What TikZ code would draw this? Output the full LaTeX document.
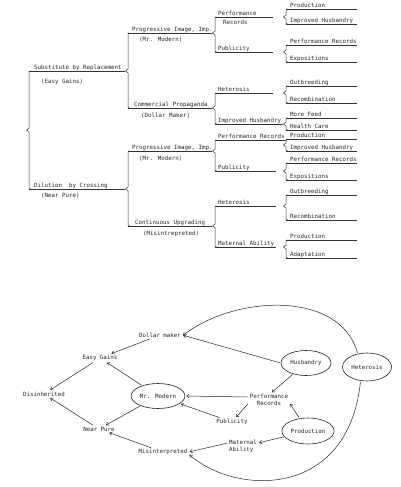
\documentclass[tikz,border=0pt]{standalone}
\usepackage{fontspec}
\newfontfamily\tw{DejaVu Sans Mono}
\usetikzlibrary{arrows.meta,shapes.geometric}
\tikzset{
  tline/.style={draw=black!80, line width=0.5pt},
  lbl/.style={font=\tw\fontsize{5.8}{7}\selectfont, text=black!85, inner sep=1pt},
  oval/.style={ellipse, draw=black!85, line width=0.6pt, inner sep=0pt},
  arr/.style={draw=black!85, line width=0.5pt, -{Straight Barb[length=2.5pt,width=3.5pt]}, shorten >=1pt, shorten <=1pt}
}
\newcommand\tentry[6]{%
  \node[lbl, anchor=base west] (#1) at (#2,{#3-1.6}) {#6};
  \draw[tline] (#4,#3) -- (#5,#3);}
\newcommand\tbrace[4]{%
  \draw[tline] ({#1+2},#2) .. controls (#1,#2) .. (#1,{#2+2}) -- (#1,{#4-2}) -- ({#1-2.5},#4) -- (#1,{#4+2}) -- (#1,{#3-2}) .. controls (#1,#3) .. ({#1+2},#3);}
\begin{document}
\begin{tikzpicture}[x=1pt,y=-1pt]
\useasboundingbox[fill=white] (0,0) rectangle (400,487);
% ---------- level 0
\tentry{sub}{33}{71}{29}{125}{Substitute by Replacement}
\node[lbl, anchor=base west] (subp) at (40,84) {(Easy Gains)};
\tentry{dil}{33}{189}{29}{125}{Dilution\ \ by Crossing}
\node[lbl, anchor=base west] (dilp) at (40,197) {(Near Pure)};
\tbrace{29}{71}{189}{130}
% ---------- level 1
\tentry{pia}{131}{33}{128}{212}{Progressive Image, Imp.}
\node[lbl, anchor=base west] (piap) at (138,42) {(Mr. Modern)};
\tentry{cpa}{133}{108}{128}{212}{Commercial Propaganda}
\node[lbl, anchor=base west] (cpap) at (140,117) {(Dollar Maker)};
\tbrace{128}{33}{108}{71}
\tentry{pib}{131}{151}{128}{212}{Progressive Image, Imp.}
\node[lbl, anchor=base west] (pibp) at (138,160) {(Mr. Modern)};
\tentry{cua}{134}{226}{128}{212}{Continuous Upgrading}
\node[lbl, anchor=base west] (cuap) at (142,235) {(Misintrepreted)};
\tbrace{128}{151}{226}{189}
% ---------- level 2
\tentry{pra}{217}{17}{215}{273}{Performance}
\node[lbl, anchor=base west] (prar) at (222,25) {Records};
\tentry{pba}{217}{52}{215}{273}{Publicity}
\tbrace{215}{17}{52}{33}
\tentry{hea}{217}{93}{215}{273}{Heterosis}
\tentry{iha}{217}{124}{215}{283}{Improved Husbandry}
\tbrace{215}{93}{124}{108}
\tentry{prb}{217}{140}{215}{286}{Performance Records}
\tentry{pbb}{217}{171}{215}{276}{Publicity}
\tbrace{215}{140}{171}{151}
\tentry{heb}{217}{206}{215}{276}{Heterosis}
\tentry{maa}{217}{247}{215}{276}{Maternal Ability}
\tbrace{215}{206}{247}{226}
% ---------- level 3
\tentry{l1}{289}{9}{286}{357}{Production}
\tentry{l2}{289}{24}{286}{357}{Improved Husbandry}
\tbrace{286}{9}{24}{17}
\tentry{l3}{289}{45}{286}{357}{Performance Records}
\tentry{l4}{289}{62}{286}{357}{Expositions}
\tbrace{286}{45}{62}{52}
\tentry{l5}{289}{86}{286}{357}{Outbreeding}
\tentry{l6}{289}{103}{286}{357}{Recombination}
\tbrace{286}{86}{103}{93}
\tentry{l7}{289}{118}{286}{357}{More Feed}
\tentry{l8}{289}{130}{286}{357}{Health Care}
\tbrace{286}{118}{130}{124}
\tentry{l9}{289}{139}{286}{357}{Production}
\tentry{l10}{289}{151}{286}{357}{Improved Husbandry}
\tbrace{286}{139}{151}{145}
\tentry{l11}{289}{163}{286}{357}{Performance Records}
\tentry{l12}{289}{180}{286}{357}{Expositions}
\tbrace{286}{163}{180}{171}
\tentry{l13}{289}{195}{286}{357}{Outbreeding}
\tentry{l14}{289}{220}{286}{357}{Recombination}
\tbrace{286}{195}{220}{206}
\tentry{l15}{289}{240}{286}{357}{Production}
\tentry{l16}{289}{258}{286}{357}{Adaptation}
\tbrace{286}{240}{258}{247}
% ---------- bottom graph
\node[lbl] (dollar) at (160,335) {Dollar maker};
\node[lbl] (easy) at (100,358) {Easy Gains};
\node[lbl] (dis) at (44,394) {Disinherited};
\node[oval, lbl, minimum width=50pt, minimum height=25pt] (mrm) at (158,396) {Mr. Modern};
\node[lbl] (near) at (99,429) {Near Pure};
\node[lbl] (mis) at (163,452) {Misinterpreted};
\node[oval, lbl, minimum width=50pt, minimum height=25pt] (hus) at (306,363) {Husbandry};
\node[oval, lbl, minimum width=49pt, minimum height=28pt] (het) at (367,367) {Heterosis};
\node[lbl, align=center] (perf) at (269,400) {Performance\\Records};
\node[lbl] (pub) at (232,422) {Publicity};
\node[oval, lbl, minimum width=51pt, minimum height=26pt] (prod) at (308,431) {Production};
\node[lbl, align=left] (mat) at (243,446) {Maternal\\Ability};
\draw[arr] (dollar) -- (easy);
\draw[arr] (easy) -- (dis);
\draw[arr] (near) -- (dis);
\draw[arr] (mrm) -- (easy);
\draw[arr] (mrm) -- (near);
\draw[arr] (mis) -- (near);
\draw[arr] (hus.west) -- (dollar.east);
\draw[arr] (hus) -- ([xshift=2pt]perf.north);
\draw[arr] ([yshift=3pt]perf.west) -- (mrm.east);
\draw[arr] ([yshift=-3pt]perf.west) -- (pub);
\draw[arr] (pub) -- (mrm);
\draw[arr] (prod) -- ([yshift=-3pt]perf.east);
\draw[arr] (prod) -- ([yshift=3pt]mat.east);
\draw[arr] ([yshift=3pt]mat.west) -- (mis.east);
\draw[arr] (het.125) .. controls (340,290) and (235,295) .. ([yshift=-1pt]dollar.east);
\draw[arr] (het.245) .. controls (348,500) and (235,495) .. ([yshift=-2pt]mis.east);
\end{tikzpicture}
\end{document}
